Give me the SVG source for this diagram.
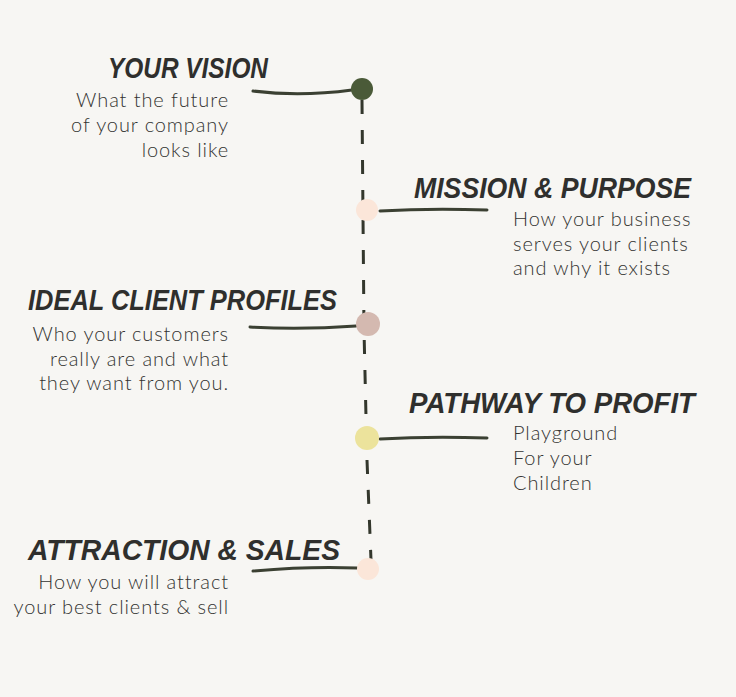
<svg xmlns="http://www.w3.org/2000/svg" width="736" height="697" viewBox="0 0 736 697">
<style>
.title{font-family:"Liberation Sans",Arial,sans-serif;font-weight:bold;font-style:italic;font-size:29px;fill:#2f2f2d;}
.body{font-family:Lato,"Open Sans",sans-serif;font-weight:300;font-size:20px;letter-spacing:0.9px;fill:#333331;}
.r{text-anchor:end;}
.link{fill:none;stroke:#3b4032;stroke-width:3;stroke-linecap:round;}
</style>
<rect width="736" height="697" fill="#f7f6f3"/>
<g id="connectors">
<path d="M362,100 L364,330 L367,460 L371,560" fill="none" stroke="#33372c" stroke-width="3" stroke-dasharray="14 16"/>
<path class="link" d="M253,91 Q300,97 352,90"/>
<path class="link" d="M380,211 Q430,208 487,210"/>
<path class="link" d="M250,327 Q300,330 356,326"/>
<path class="link" d="M380,439 Q430,436 487,438"/>
<path class="link" d="M253,571 Q310,566 357,568"/>
</g>
<g id="vision">
<circle cx="362" cy="89" r="11" fill="#4a5a38"/>
<text class="title" x="108" y="78" textLength="160" lengthAdjust="spacingAndGlyphs">YOUR VISION</text>
<text class="body r" x="229" y="107">What the future</text>
<text class="body r" x="229" y="132">of your company</text>
<text class="body r" x="229" y="157">looks like</text>
</g>
<g id="mission">
<circle cx="367" cy="210" r="11" fill="#fbe6d9"/>
<text class="title" x="414" y="198" textLength="277" lengthAdjust="spacingAndGlyphs">MISSION &amp; PURPOSE</text>
<text class="body" x="513" y="226">How your business</text>
<text class="body" x="513" y="251">serves your clients</text>
<text class="body" x="513" y="275">and why it exists</text>
</g>
<g id="ideal">
<circle cx="368" cy="324" r="12" fill="#d4b9b0"/>
<text class="title" x="28" y="310" textLength="309" lengthAdjust="spacingAndGlyphs">IDEAL CLIENT PROFILES</text>
<text class="body r" x="229" y="341">Who your customers</text>
<text class="body r" x="229" y="366">really are and what</text>
<text class="body r" x="229" y="390">they want from you.</text>
</g>
<g id="pathway">
<circle cx="367" cy="438" r="12" fill="#ece39c"/>
<text class="title" x="409" y="413" textLength="286" lengthAdjust="spacingAndGlyphs">PATHWAY TO PROFIT</text>
<text class="body" x="513" y="440">Playground</text>
<text class="body" x="513" y="465">For your</text>
<text class="body" x="513" y="490">Children</text>
</g>
<g id="attraction">
<circle cx="368" cy="569" r="11" fill="#fbe6d9"/>
<text class="title" x="28" y="560" textLength="312" lengthAdjust="spacingAndGlyphs">ATTRACTION &amp; SALES</text>
<text class="body r" x="229" y="589">How you will attract</text>
<text class="body r" x="229" y="614">your best clients &amp; sell</text>
</g>
</svg>
